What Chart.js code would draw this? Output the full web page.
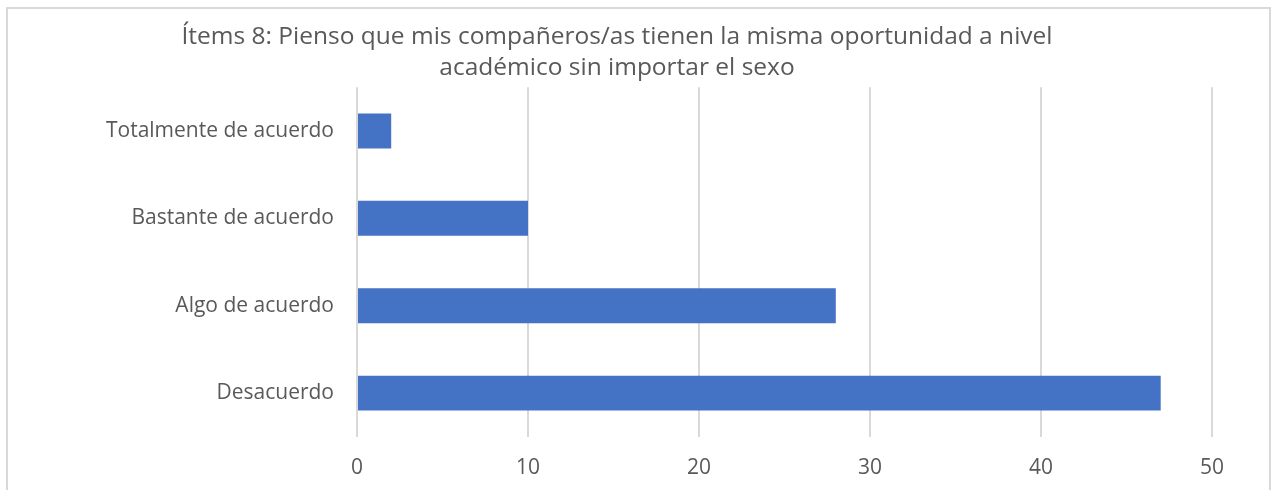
<!DOCTYPE html>
<html>
<head>
<meta charset="utf-8">
<script src="https://cdn.jsdelivr.net/npm/chart.js@4"></script>
<style>
  body { margin: 0; background: #fff; overflow: hidden; }
  #frame { position: absolute; left: 6px; top: 7px; width: 1261px; height: 500px; border: 2px solid #d9d9d9; }
  #wrap { position: absolute; left: 0; top: 0; width: 1271px; height: 510px; }
</style>
</head>
<body>
<div id="frame"></div>
<div id="wrap"><canvas id="graph"></canvas></div>
<script>
const categories = [
    'Totalmente de acuerdo',
    'Bastante de acuerdo',
    'Algo de acuerdo',
    'Desacuerdo'
];
const values = [2, 10, 28, 47];
const titleLines = [
    'Ítems 8: Pienso que mis compañeros/as tienen la misma oportunidad a nivel',
    'académico sin importar el sexo'
];

const textColor = '#595959';
const fontFamily = '"Open Sans", Lato, sans-serif';

const config = {
    type: 'bar',
    data: {
        labels: categories,
        datasets: [{
            data: values,
            backgroundColor: '#4472C4',
            categoryPercentage: 0.4,
            barPercentage: 1
        }]
    },
    options: {
        indexAxis: 'y',
        responsive: true,
        maintainAspectRatio: false,
        animation: false,
        layout: {
            padding: { left: 22, right: 59, top: 0, bottom: 10 }
        },
        plugins: {
            legend: { display: false },
            tooltip: { enabled: false },
            title: {
                display: true,
                text: titleLines,
                color: textColor,
                font: { family: fontFamily, size: 24.5, weight: 'normal', lineHeight: 1.25 },
                padding: { top: 22, bottom: 4 }
            }
        },
        scales: {
            x: {
                min: 0,
                max: 50,
                ticks: {
                    stepSize: 10,
                    color: textColor,
                    padding: 19,
                    font: { family: fontFamily, size: 21 }
                },
                grid: { color: '#d9d9d9', lineWidth: 2, drawTicks: false },
                border: { display: false }
            },
            y: {
                ticks: {
                    color: textColor,
                    padding: 23,
                    font: { family: fontFamily, size: 21 }
                },
                grid: { display: false, drawTicks: false },
                border: { display: false },
                afterFit: (scale) => { scale.width = 335; }
            }
        }
    }
};

new Chart(document.getElementById('graph'), config);
</script>
</body>
</html>
